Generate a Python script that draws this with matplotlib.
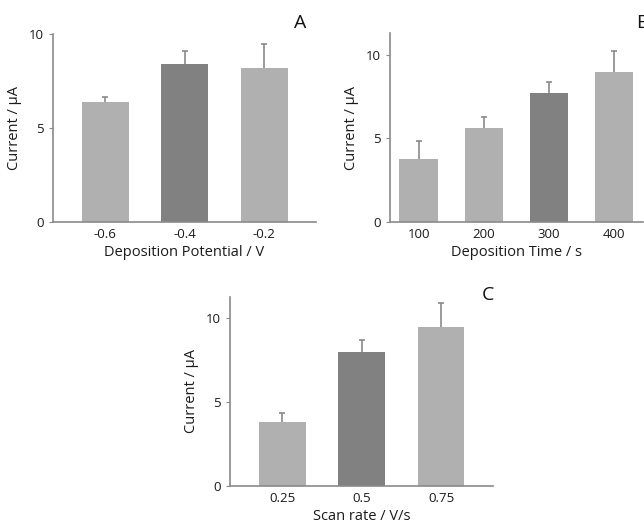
import numpy as np
import matplotlib.pyplot as plt

plt.rcParams["font.family"] = ["Open Sans", "DejaVu Sans"]

# -------------------------------------------------
# Data
# -------------------------------------------------
pot_labels = ["-0.6", "-0.4", "-0.2"]
pot_current = [6.4, 8.4, 8.2]
pot_err = [0.25, 0.7, 1.25]

time_labels = ["100", "200", "300", "400"]
time_current = [3.8, 5.6, 7.7, 8.95]
time_err = [1.05, 0.68, 0.7, 1.3]

scan_labels = ["0.25", "0.5", "0.75"]
scan_current = [3.8, 8.0, 9.45]
scan_err = [0.57, 0.7, 1.45]

LIGHT = "#b0b0b0"
DARK = "#818181"
AXIS = "#8a8a8a"
TEXT = "#1a1a1a"


def panel(ax, labels, values, errs, dark_idx, xlabel, letter, ymax,
          letter_xy):
    x = np.arange(len(labels))
    colors = [DARK if i == dark_idx else LIGHT for i in range(len(labels))]
    ax.bar(x, values, width=0.59, color=colors, zorder=2)
    _, caps, _ = ax.errorbar(x, values, yerr=[np.zeros(len(errs)), errs],
                             fmt="none", ecolor=AXIS, elinewidth=1.2,
                             capsize=2.5, capthick=1.2, zorder=1)
    # only the upper cap is drawn in the original
    caps[0].set_visible(False)
    ax.set_xticks(x)
    ax.set_xticklabels(labels)
    ax.set_xlim(-0.66, len(labels) - 1 + 0.65)
    ax.set_ylim(0, ymax)
    ax.set_yticks([0, 5, 10])
    ax.tick_params(axis="x", length=0, labelsize=9.5, pad=4, colors=TEXT)
    ax.tick_params(axis="y", length=3, labelsize=9.5, colors=TEXT)
    ax.tick_params(axis="y", color=AXIS)
    for s in ["top", "right"]:
        ax.spines[s].set_visible(False)
    for s in ["left", "bottom"]:
        ax.spines[s].set_color(AXIS)
        ax.spines[s].set_linewidth(1.2)
    ax.set_ylabel("Current / µA", fontsize=10.5, color=TEXT, labelpad=5)
    ax.set_xlabel(xlabel, fontsize=10.5, color=TEXT, labelpad=3)
    ax.figure.text(letter_xy[0], letter_xy[1], letter, fontsize=14,
                   ha="center", va="center", color="#111111")


fig = plt.figure(figsize=(6.44, 5.25), dpi=100)

ax_a = fig.add_axes([0.0823, 0.577, 0.408, 0.358])
panel(ax_a, pot_labels, pot_current, pot_err, 1,
      "Deposition Potential / V", "A", 10.0, (0.466, 0.956))

ax_b = fig.add_axes([0.6056, 0.577, 0.393, 0.36])
panel(ax_b, time_labels, time_current, time_err, 2,
      "Deposition Time / s", "B", 11.3, (0.997, 0.956))
ax_b.set_xlim(-0.44, 3.45)
ax_b.set_ylim(0, 11.3)

ax_c = fig.add_axes([0.357, 0.0743, 0.408, 0.36])
panel(ax_c, scan_labels, scan_current, scan_err, 1,
      "Scan rate / V/s", "C", 11.25, (0.758, 0.438))

fig.savefig("out.png", dpi=100)
